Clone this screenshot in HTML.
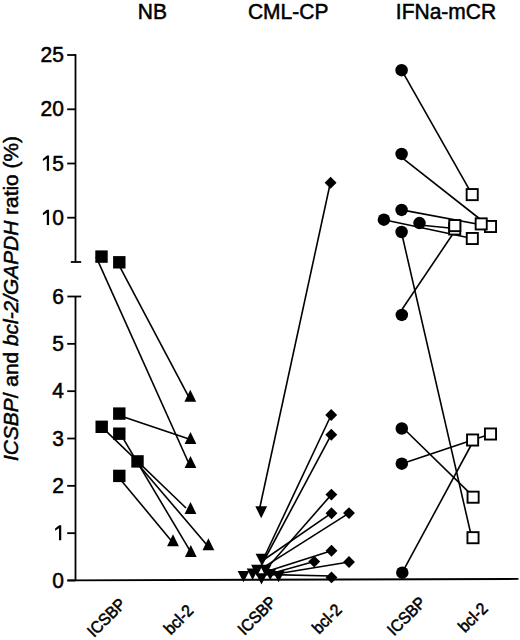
<!DOCTYPE html>
<html><head><meta charset="utf-8"><style>
html,body{margin:0;padding:0;background:#fff;}
svg{display:block;}
text{font-family:"Liberation Sans", sans-serif;fill:#000;stroke:#000;stroke-width:0.5px;}
</style></head><body>
<svg width="520" height="640" viewBox="0 0 520 640">
<rect width="520" height="640" fill="#fff"/>
<line x1="75.50" y1="54.10" x2="75.50" y2="262.00" stroke="#000" stroke-width="1.8"/>
<line x1="67.20" y1="55.00" x2="75.50" y2="55.00" stroke="#000" stroke-width="1.8"/>
<line x1="67.20" y1="109.30" x2="75.50" y2="109.30" stroke="#000" stroke-width="1.8"/>
<line x1="67.20" y1="163.50" x2="75.50" y2="163.50" stroke="#000" stroke-width="1.8"/>
<line x1="67.20" y1="217.70" x2="75.50" y2="217.70" stroke="#000" stroke-width="1.8"/>
<line x1="70.80" y1="262.00" x2="81.20" y2="262.00" stroke="#000" stroke-width="1.8"/>
<line x1="75.50" y1="296.50" x2="75.50" y2="580.50" stroke="#000" stroke-width="1.8"/>
<line x1="67.40" y1="296.50" x2="81.20" y2="296.50" stroke="#000" stroke-width="1.8"/>
<line x1="67.20" y1="580.50" x2="75.50" y2="580.50" stroke="#000" stroke-width="1.8"/>
<line x1="67.20" y1="533.17" x2="75.50" y2="533.17" stroke="#000" stroke-width="1.8"/>
<line x1="67.20" y1="485.84" x2="75.50" y2="485.84" stroke="#000" stroke-width="1.8"/>
<line x1="67.20" y1="438.51" x2="75.50" y2="438.51" stroke="#000" stroke-width="1.8"/>
<line x1="67.20" y1="391.18" x2="75.50" y2="391.18" stroke="#000" stroke-width="1.8"/>
<line x1="67.20" y1="343.85" x2="75.50" y2="343.85" stroke="#000" stroke-width="1.8"/>
<line x1="67.50" y1="580.40" x2="518.50" y2="578.90" stroke="#000" stroke-width="1.9"/>
<text transform="translate(63.9,62.00) scale(1,1.08)" text-anchor="end" font-size="21">25</text>
<text transform="translate(63.9,116.30) scale(1,1.08)" text-anchor="end" font-size="21">20</text>
<text transform="translate(63.9,170.50) scale(1,1.08)" text-anchor="end" font-size="21">5</text>
<polygon points="46.80,170.70 49.05,170.70 49.05,155.60 47.00,155.60 42.90,158.90 42.90,161.10 46.80,158.50" fill="#000"/>
<text transform="translate(63.9,224.70) scale(1,1.08)" text-anchor="end" font-size="21">0</text>
<polygon points="46.80,224.90 49.05,224.90 49.05,209.80 47.00,209.80 42.90,213.10 42.90,215.30 46.80,212.70" fill="#000"/>
<text transform="translate(63.9,587.50) scale(1,1.08)" text-anchor="end" font-size="21">0</text>
<text transform="translate(63.9,492.84) scale(1,1.08)" text-anchor="end" font-size="21">2</text>
<text transform="translate(63.9,445.51) scale(1,1.08)" text-anchor="end" font-size="21">3</text>
<text transform="translate(63.9,398.18) scale(1,1.08)" text-anchor="end" font-size="21">4</text>
<text transform="translate(63.9,350.85) scale(1,1.08)" text-anchor="end" font-size="21">5</text>
<text transform="translate(63.9,303.52) scale(1,1.08)" text-anchor="end" font-size="21">6</text>
<polygon points="59.00,540.37 61.25,540.37 61.25,525.27 59.20,525.27 55.10,528.57 55.10,530.77 59.00,528.17" fill="#000"/>
<text transform="translate(152.3,18.6) scale(1,1.08)" text-anchor="middle" font-size="21">NB</text>
<text transform="translate(288.2,18.6) scale(1,1.08)" text-anchor="middle" font-size="21">CML-CP</text>
<text transform="translate(446.0,18.6) scale(1,1.08)" text-anchor="middle" font-size="21">IFNa-mCR</text>
<text transform="translate(18.0,298.5) scale(1,1.045) rotate(-90)" text-anchor="middle" font-size="20"><tspan font-style="italic">ICSBP</tspan>/ and <tspan font-style="italic">bcl-2/GAPDH</tspan> ratio (%)</text>
<text transform="translate(94.0,638.0) rotate(-45) scale(1,1.08)" font-size="15.5">ICSBP</text>
<text transform="translate(244.5,636.0) rotate(-45) scale(1,1.08)" font-size="15.5">ICSBP</text>
<text transform="translate(394.0,636.5) rotate(-45) scale(1,1.08)" font-size="15.5">ICSBP</text>
<text transform="translate(170.7,635.5) rotate(-45) scale(1,1.08)" font-size="15.5">bcl-2</text>
<text transform="translate(319.0,634.7) rotate(-45) scale(1,1.08)" font-size="15.5">bcl-2</text>
<text transform="translate(465.0,633.3) rotate(-45) scale(1,1.08)" font-size="15.5">bcl-2</text>
<line x1="96.00" y1="256.60" x2="188.20" y2="462.00" stroke="#000" stroke-width="1.6"/>
<line x1="117.50" y1="262.30" x2="188.20" y2="395.80" stroke="#000" stroke-width="1.6"/>
<line x1="119.30" y1="415.60" x2="190.50" y2="439.50" stroke="#000" stroke-width="1.6"/>
<line x1="101.70" y1="426.80" x2="186.00" y2="508.00" stroke="#000" stroke-width="1.6"/>
<line x1="120.30" y1="433.70" x2="190.10" y2="550.90" stroke="#000" stroke-width="1.6"/>
<line x1="135.70" y1="461.40" x2="206.30" y2="544.20" stroke="#000" stroke-width="1.6"/>
<line x1="117.50" y1="475.90" x2="170.90" y2="540.20" stroke="#000" stroke-width="1.6"/>
<rect x="95.30" y="250.40" width="12.4" height="12.4" fill="#000"/>
<rect x="113.10" y="256.10" width="12.4" height="12.4" fill="#000"/>
<rect x="113.10" y="407.40" width="12.4" height="12.4" fill="#000"/>
<rect x="95.50" y="420.60" width="12.4" height="12.4" fill="#000"/>
<rect x="113.10" y="427.50" width="12.4" height="12.4" fill="#000"/>
<rect x="131.30" y="455.20" width="12.4" height="12.4" fill="#000"/>
<rect x="113.10" y="469.70" width="12.4" height="12.4" fill="#000"/>
<polygon points="190.30,389.80 196.20,401.80 184.40,401.80" fill="#000"/>
<polygon points="190.50,431.90 196.40,443.90 184.60,443.90" fill="#000"/>
<polygon points="190.50,455.90 196.40,467.90 184.60,467.90" fill="#000"/>
<polygon points="190.50,501.90 196.40,513.90 184.60,513.90" fill="#000"/>
<polygon points="173.00,534.20 178.90,546.20 167.10,546.20" fill="#000"/>
<polygon points="190.80,544.90 196.70,556.90 184.90,556.90" fill="#000"/>
<polygon points="208.40,538.20 214.30,550.20 202.50,550.20" fill="#000"/>
<line x1="259.50" y1="509.00" x2="330.30" y2="183.00" stroke="#000" stroke-width="1.6"/>
<line x1="263.10" y1="559.50" x2="331.20" y2="415.00" stroke="#000" stroke-width="1.6"/>
<line x1="261.60" y1="565.00" x2="331.30" y2="434.70" stroke="#000" stroke-width="1.6"/>
<line x1="265.40" y1="570.00" x2="331.40" y2="494.60" stroke="#000" stroke-width="1.6"/>
<line x1="262.00" y1="561.00" x2="331.50" y2="513.20" stroke="#000" stroke-width="1.6"/>
<line x1="265.00" y1="566.40" x2="349.00" y2="513.10" stroke="#000" stroke-width="1.6"/>
<line x1="265.00" y1="572.00" x2="331.50" y2="550.80" stroke="#000" stroke-width="1.6"/>
<line x1="266.00" y1="575.00" x2="314.20" y2="561.60" stroke="#000" stroke-width="1.6"/>
<line x1="270.00" y1="575.00" x2="349.00" y2="562.00" stroke="#000" stroke-width="1.6"/>
<line x1="272.00" y1="574.60" x2="331.50" y2="576.00" stroke="#000" stroke-width="1.6"/>
<polygon points="255.30,506.30 267.10,506.30 261.20,518.30" fill="#000"/>
<polygon points="255.60,553.70 267.40,553.70 261.50,565.10" fill="#000"/>
<polygon points="251.10,564.80 262.90,564.80 257.00,576.20" fill="#000"/>
<polygon points="259.60,564.80 271.40,564.80 265.50,576.20" fill="#000"/>
<polygon points="237.60,570.90 249.40,570.90 243.50,582.30" fill="#000"/>
<polygon points="246.70,568.50 258.50,568.50 252.60,579.90" fill="#000"/>
<polygon points="264.30,568.90 276.10,568.90 270.20,580.30" fill="#000"/>
<polygon points="272.70,570.90 284.50,570.90 278.60,582.30" fill="#000"/>
<polygon points="255.60,573.20 267.40,573.20 261.50,584.60" fill="#000"/>
<polygon points="330.60,176.85 336.55,182.80 330.60,188.75 324.65,182.80" fill="#000"/>
<polygon points="331.20,409.05 337.15,415.00 331.20,420.95 325.25,415.00" fill="#000"/>
<polygon points="331.30,428.75 337.25,434.70 331.30,440.65 325.35,434.70" fill="#000"/>
<polygon points="331.40,488.65 337.35,494.60 331.40,500.55 325.45,494.60" fill="#000"/>
<polygon points="331.50,507.25 337.45,513.20 331.50,519.15 325.55,513.20" fill="#000"/>
<polygon points="349.00,507.15 354.95,513.10 349.00,519.05 343.05,513.10" fill="#000"/>
<polygon points="331.50,544.85 337.45,550.80 331.50,556.75 325.55,550.80" fill="#000"/>
<polygon points="314.20,555.65 320.15,561.60 314.20,567.55 308.25,561.60" fill="#000"/>
<polygon points="349.00,556.05 354.95,562.00 349.00,567.95 343.05,562.00" fill="#000"/>
<polygon points="331.50,571.45 337.45,577.40 331.50,583.35 325.55,577.40" fill="#000"/>
<line x1="401.60" y1="70.20" x2="472.20" y2="194.60" stroke="#000" stroke-width="1.6"/>
<line x1="401.60" y1="157.40" x2="481.20" y2="220.00" stroke="#000" stroke-width="1.6"/>
<line x1="401.60" y1="209.90" x2="490.50" y2="226.50" stroke="#000" stroke-width="1.6"/>
<line x1="383.90" y1="219.70" x2="472.30" y2="238.50" stroke="#000" stroke-width="1.6"/>
<line x1="419.50" y1="225.00" x2="454.70" y2="228.50" stroke="#000" stroke-width="1.6"/>
<line x1="402.30" y1="309.00" x2="456.20" y2="229.00" stroke="#000" stroke-width="1.6"/>
<line x1="401.40" y1="232.00" x2="471.70" y2="537.70" stroke="#000" stroke-width="1.6"/>
<line x1="401.80" y1="426.70" x2="473.10" y2="496.40" stroke="#000" stroke-width="1.6"/>
<line x1="401.80" y1="463.70" x2="490.50" y2="434.00" stroke="#000" stroke-width="1.6"/>
<line x1="402.20" y1="572.70" x2="473.90" y2="440.00" stroke="#000" stroke-width="1.6"/>
<circle cx="401.60" cy="70.20" r="6.25" fill="#000"/>
<circle cx="401.60" cy="153.90" r="6.25" fill="#000"/>
<circle cx="401.60" cy="209.90" r="6.25" fill="#000"/>
<circle cx="383.90" cy="219.70" r="6.25" fill="#000"/>
<circle cx="419.50" cy="223.10" r="6.25" fill="#000"/>
<circle cx="401.60" cy="232.00" r="6.25" fill="#000"/>
<circle cx="401.80" cy="314.90" r="6.25" fill="#000"/>
<circle cx="401.80" cy="428.50" r="6.25" fill="#000"/>
<circle cx="401.80" cy="463.70" r="6.25" fill="#000"/>
<circle cx="402.30" cy="572.70" r="6.25" fill="#000"/>
<rect x="484.95" y="220.95" width="11.10" height="11.10" fill="#fff" stroke="#000" stroke-width="1.9"/>
<rect x="475.65" y="218.35" width="11.10" height="11.10" fill="#fff" stroke="#000" stroke-width="1.9"/>
<rect x="449.15" y="223.45" width="11.10" height="11.10" fill="#fff" stroke="#000" stroke-width="1.9"/>
<rect x="449.25" y="220.05" width="11.10" height="11.10" fill="#fff" stroke="#000" stroke-width="1.9"/>
<rect x="466.65" y="189.05" width="11.10" height="11.10" fill="#fff" stroke="#000" stroke-width="1.9"/>
<rect x="466.75" y="232.95" width="11.10" height="11.10" fill="#fff" stroke="#000" stroke-width="1.9"/>
<rect x="484.95" y="428.45" width="11.10" height="11.10" fill="#fff" stroke="#000" stroke-width="1.9"/>
<rect x="467.05" y="434.45" width="11.10" height="11.10" fill="#fff" stroke="#000" stroke-width="1.9"/>
<rect x="467.55" y="491.65" width="11.10" height="11.10" fill="#fff" stroke="#000" stroke-width="1.9"/>
<rect x="467.45" y="532.15" width="11.10" height="11.10" fill="#fff" stroke="#000" stroke-width="1.9"/>
</svg>
</body></html>
